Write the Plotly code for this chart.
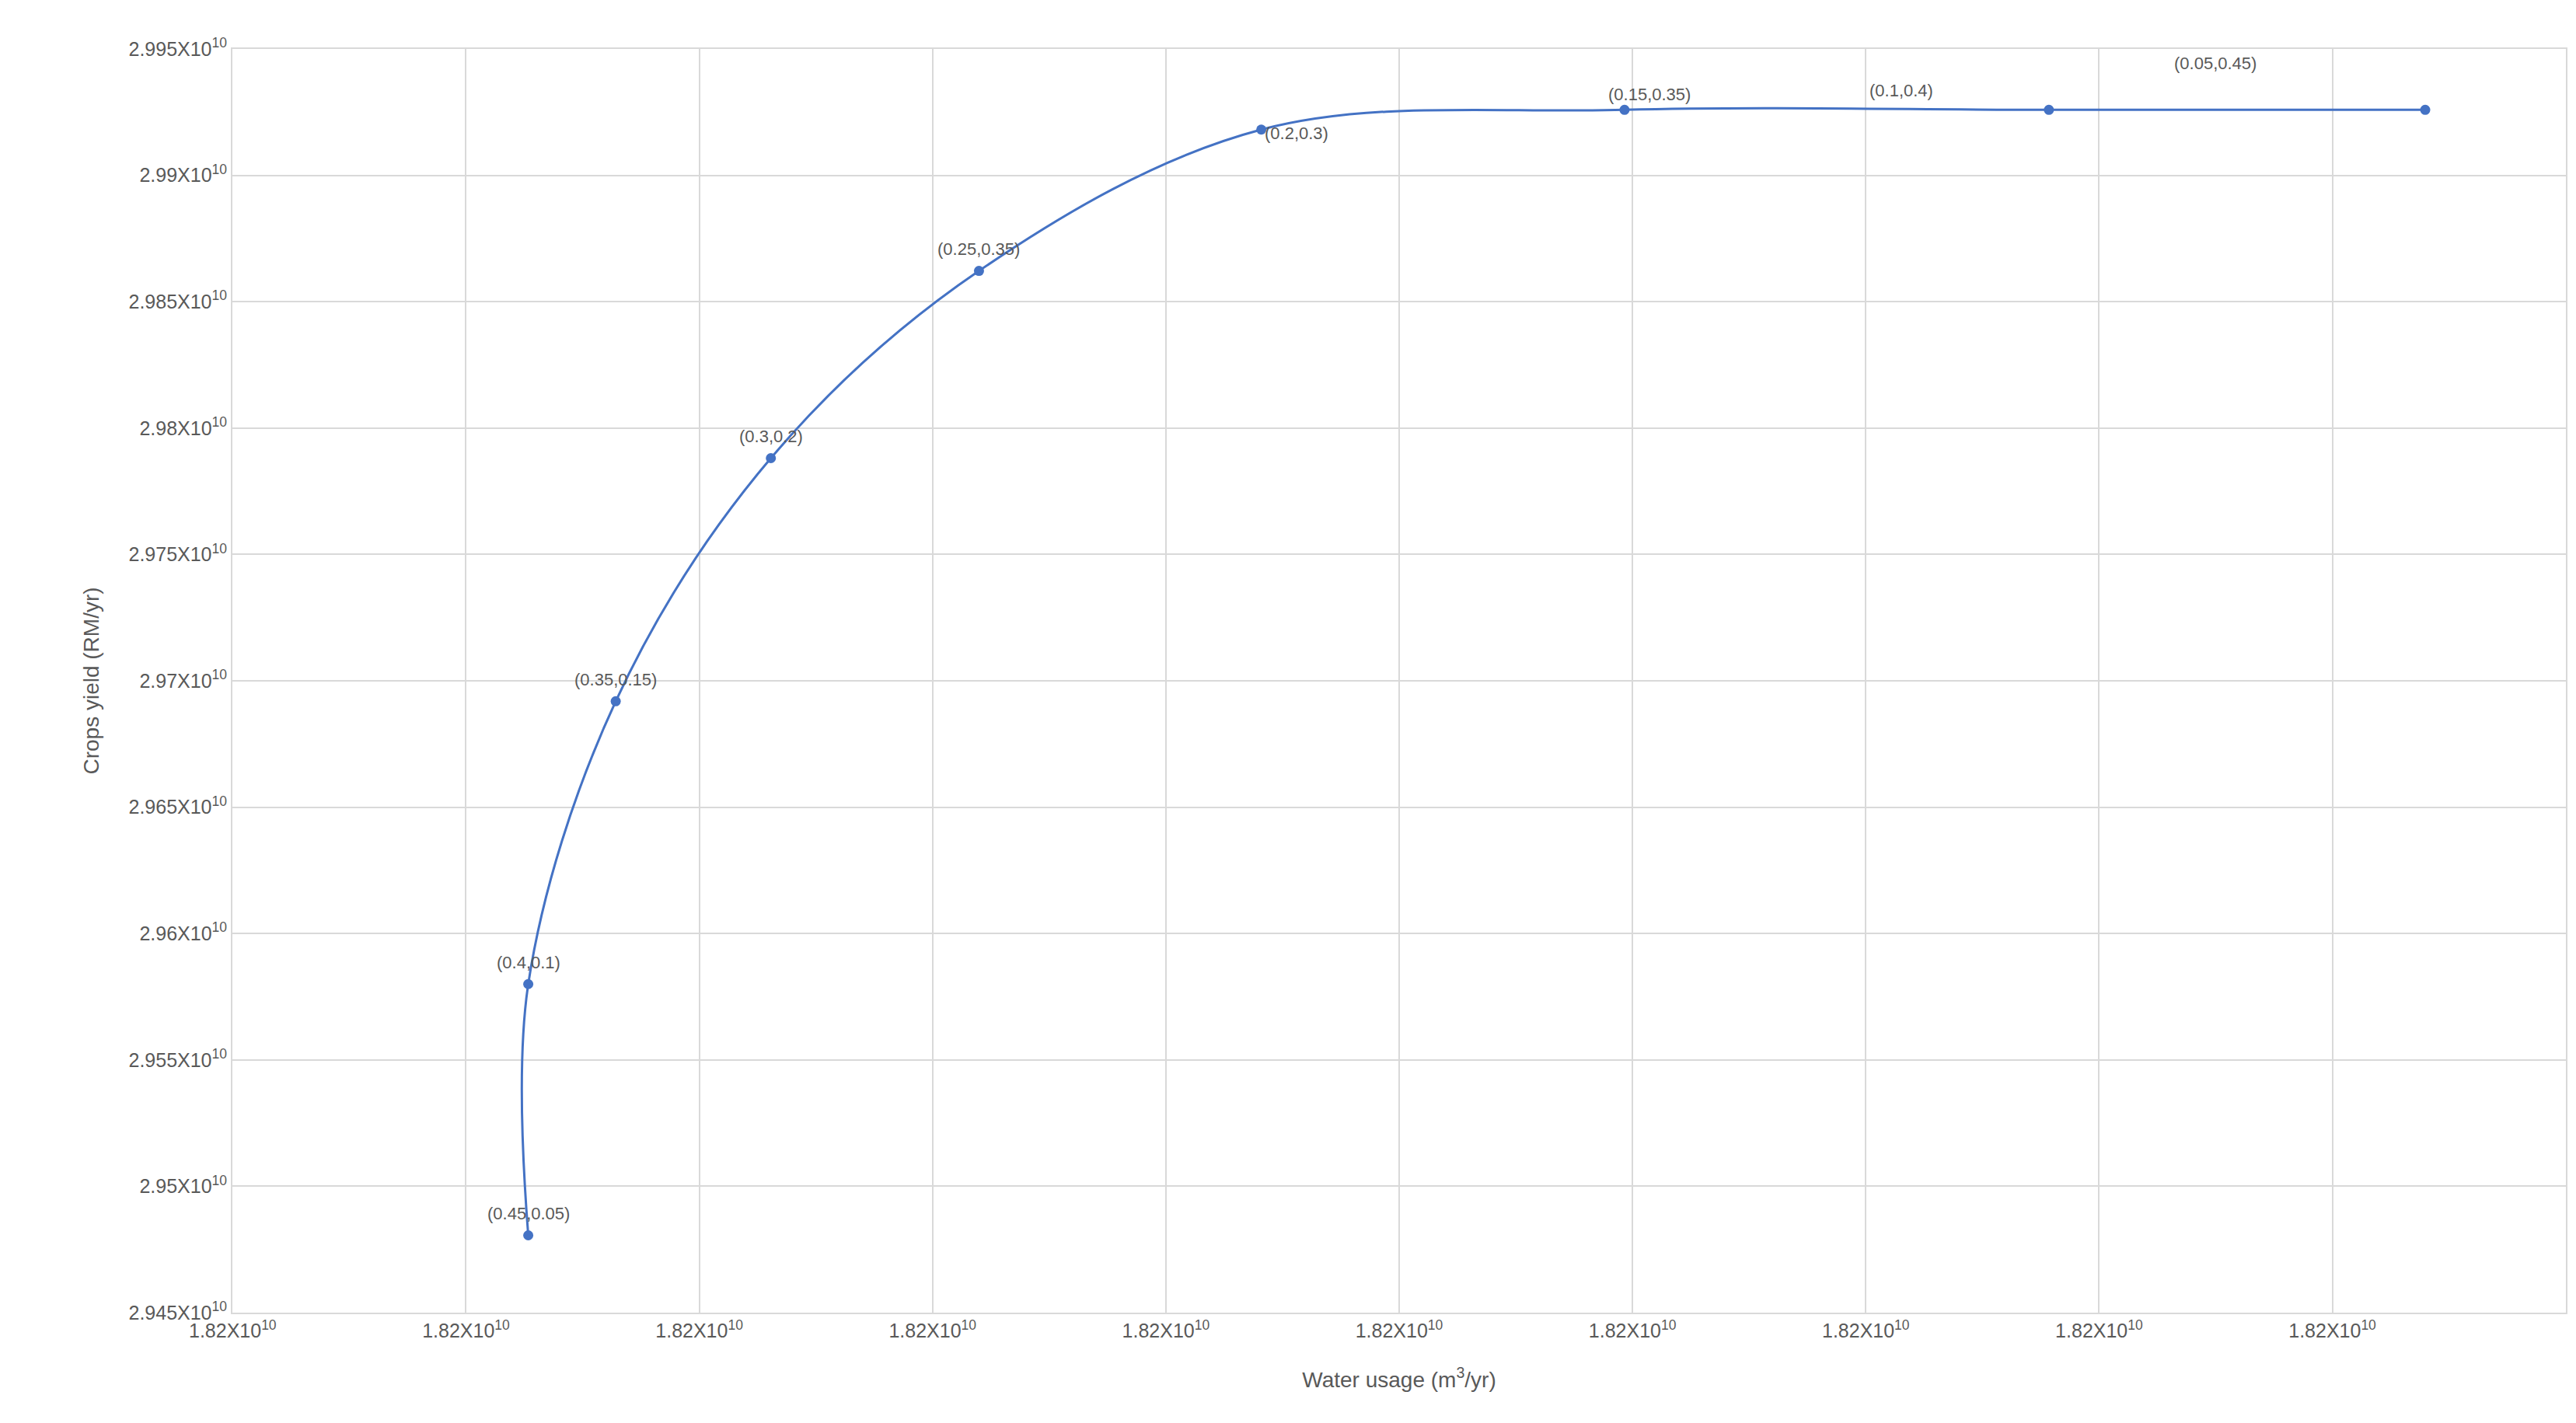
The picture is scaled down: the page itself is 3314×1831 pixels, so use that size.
import plotly.graph_objects as go

labels = ["(0.45,0.05)", "(0.4,0.1)", "(0.35,0.15)", "(0.3,0.2)", "(0.25,0.35)",
          "(0.2,0.3)", "(0.15,0.35)", "(0.1,0.4)", "(0.05,0.45)"]
water = [18201267000, 18201267000, 18201642000, 18202307000, 18203199000,
         18204409000, 18205966000, 18207785000, 18209398000]
yield_ = [2.94806e10, 2.95800e10, 2.96919e10, 2.97881e10, 2.98622e10,
          2.99181e10, 2.99259e10, 2.99259e10, 2.99259e10]
x_ticks = [18200000000 + i * 1000000 for i in range(11)]
x_ticktext = ["1.82X10<sup>10</sup>"] * 11
y_ticks = [2.945e10 + i * 0.005e10 for i in range(11)]
y_ticktext = ["2.945X10<sup>10</sup>", "2.95X10<sup>10</sup>", "2.955X10<sup>10</sup>",
              "2.96X10<sup>10</sup>", "2.965X10<sup>10</sup>", "2.97X10<sup>10</sup>",
              "2.975X10<sup>10</sup>", "2.98X10<sup>10</sup>", "2.985X10<sup>10</sup>",
              "2.99X10<sup>10</sup>", "2.995X10<sup>10</sup>"]

label_shift = [(0, 28), (0, 28), (0, 28), (0, 28), (0, 28), (45, -5), (32, 20), (-190, 25), (-270, 60)]

fig = go.Figure(go.Scatter(x=water, y=yield_, mode="lines+markers",
                           line=dict(color="#4472C4", width=3, shape="spline", smoothing=1.0),
                           marker=dict(color="#4472C4", size=13)))
for xv, yv, t, (dx, dy) in zip(water, yield_, labels, label_shift):
    fig.add_annotation(x=xv, y=yv, text=t, showarrow=False, xshift=dx, yshift=dy,
                       font=dict(size=22, color="#595959"))

axis_common = dict(showgrid=True, gridcolor="#D9D9D9", gridwidth=2, zeroline=False,
                   showline=True, linecolor="#D9D9D9", linewidth=2, mirror=True,
                   tickfont=dict(size=25, color="#595959"), ticks="")
fig.update_xaxes(range=[x_ticks[0] - 1000, x_ticks[-1] + 1000], tickvals=x_ticks, ticktext=x_ticktext,
                 title=dict(text="Water usage (m<sup>3</sup>/yr)", font=dict(size=28, color="#595959"),
                            standoff=40),
                 **axis_common)
fig.update_yaxes(range=[y_ticks[0], y_ticks[-1]], tickvals=y_ticks, ticktext=y_ticktext,
                 title=dict(text="Crops yield (RM/yr)", font=dict(size=28, color="#595959"),
                            standoff=30),
                 **axis_common)
fig.update_layout(width=3314, height=1831, plot_bgcolor="white", paper_bgcolor="white",
                  margin=dict(l=291, r=21, t=55, b=150), showlegend=False,
                  font=dict(family="Liberation Sans"))
fig.write_html("out.html")
